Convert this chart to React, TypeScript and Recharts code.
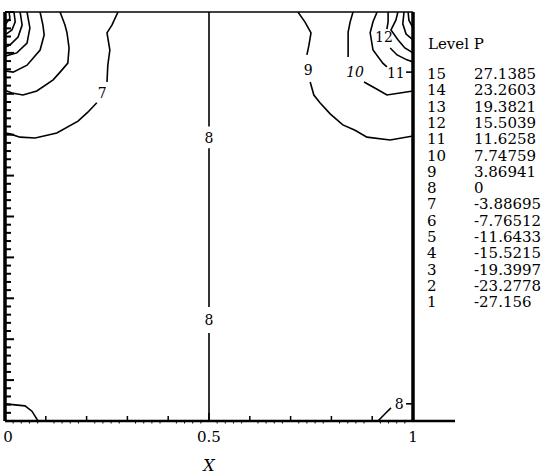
import React from "react";
import { ComposedChart, Line, XAxis, YAxis, ReferenceLine, Scatter } from "recharts";

// contour levels shown in the table on the right
const levelIds = ["15", "14", "13", "12", "11", "10", "9", "8", "7", "6", "5", "4", "3", "2", "1"];
const levelValues = [
  "27.1385", "23.2603", "19.3821", "15.5039", "11.6258", "7.74759", "3.86941", "0",
  "-3.88695", "-7.76512", "-11.6433", "-15.5215", "-19.3997", "-23.2778", "-27.156",
];

const xTickLabels = ["0", "0.5", "1"];
const minorTicks = Array.from({ length: 51 }, (_, i) => i / 50);

// contour polylines, [x, y] pairs
const c1: [number, number][] = [[0.01, 1], [0.012, 0.985], [0, 0.968]];
const c2: [number, number][] = [[0.022, 1], [0.025, 0.976], [0.017, 0.956], [0, 0.944]];
const c3: [number, number][] = [[0.037, 1], [0.042, 0.968], [0.032, 0.939], [0.012, 0.919], [0, 0.914]];
const c4: [number, number][] = [[0.054, 1], [0.061, 0.961], [0.054, 0.924], [0.029, 0.9], [0, 0.892]];
const c5: [number, number][] = [[0.086, 1], [0.093, 0.968], [0.096, 0.944], [0.086, 0.907], [0.054, 0.87], [0.02, 0.853], [0, 0.856]];
const c6: [number, number][] = [
  [0.135, 1], [0.147, 0.968], [0.152, 0.949], [0.157, 0.912], [0.154, 0.875], [0.135, 0.853],
  [0.118, 0.834], [0.078, 0.807], [0.044, 0.797], [0.017, 0.802], [0, 0.809],
];
const c7a: [number, number][] = [[0.277, 1], [0.262, 0.968], [0.25, 0.949], [0.257, 0.907], [0.252, 0.87], [0.25, 0.829]];
const c7b: [number, number][] = [
  [0.225, 0.778], [0.203, 0.755], [0.179, 0.733], [0.127, 0.704], [0.074, 0.692], [0.037, 0.694], [0.012, 0.702], [0, 0.704],
];
const c7c: [number, number][] = [[0, 0.042], [0.049, 0.037], [0.066, 0.024], [0.081, 0]];
const c8a: [number, number][] = [[0.5, 1], [0.5, 0.72]];
const c8b: [number, number][] = [[0.5, 0.667], [0.5, 0.279]];
const c8c: [number, number][] = [[0.5, 0.215], [0.5, 0]];
const c8d: [number, number][] = [[0.914, 0], [0.931, 0.017], [0.946, 0.032]];
const c8e: [number, number][] = [[0.983, 0.042], [1, 0.042]];
const c9a: [number, number][] = [[0.718, 1], [0.735, 0.976], [0.75, 0.949], [0.745, 0.919], [0.74, 0.895]];
const c9b: [number, number][] = [
  [0.748, 0.829], [0.757, 0.797], [0.772, 0.778], [0.797, 0.751], [0.828, 0.724], [0.858, 0.711],
  [0.887, 0.694], [0.944, 0.687], [1, 0.697],
];
const c10a: [number, number][] = [[0.853, 1], [0.846, 0.976], [0.841, 0.951], [0.841, 0.919], [0.841, 0.89]];
const c10b: [number, number][] = [[0.88, 0.829], [0.914, 0.81], [0.936, 0.797], [0.968, 0.802], [1, 0.807]];
const c11a: [number, number][] = [[0.912, 1], [0.902, 0.976], [0.895, 0.949], [0.902, 0.907], [0.926, 0.875], [0.936, 0.866]];
const c11b: [number, number][] = [[0.983, 0.853], [1, 0.853]];
const c12a: [number, number][] = [[0.939, 1], [0.939, 0.976], [0.936, 0.958]];
const c12b: [number, number][] = [[0.944, 0.912], [0.961, 0.895], [0.985, 0.883], [1, 0.878]];
const c13: [number, number][] = [[0.963, 1], [0.958, 0.98], [0.946, 0.956], [0.963, 0.932], [0.98, 0.912], [1, 0.9]];
const c14: [number, number][] = [[0.978, 1], [0.975, 0.971], [0.983, 0.946], [1, 0.932]];
const c15: [number, number][] = [[0.988, 1], [0.99, 0.98], [1, 0.961]];

const contours = [c1, c2, c3, c4, c5, c6, c7a, c7b, c7c, c8a, c8b, c8c, c8d, c8e, c9a, c9b, c10a, c10b, c11a, c11b, c12a, c12b, c13, c14, c15];

// inline contour labels
const labelX = [0.238, 0.5, 0.5, 0.743, 0.858, 0.958, 0.929, 0.966];
const labelY = [0.802, 0.692, 0.246, 0.858, 0.853, 0.851, 0.939, 0.042];
const labelText = ["7", "8", "8", "9", "10", "11", "12", "8"];

const FONT = "'DejaVu Serif', serif";

const labelData = labelText.map((t, i) => ({ x: labelX[i], y: labelY[i], text: t }));

function isMajor(v: number) {
  return Math.abs(v * 10 - Math.round(v * 10)) < 1e-6;
}

function YTick({ x, y, payload }: any) {
  const len = isMajor(payload.value) ? 9 : 6;
  return <line x1={x} x2={x + len} y1={y} y2={y} stroke="#000" strokeWidth={2} />;
}

function XTick({ x, y, payload }: any) {
  const v = payload.value;
  const len = Math.abs(v - 0.5) < 1e-6 ? 8 : isMajor(v) ? 5 : 0;
  const lbl = Math.abs(v) < 1e-6 ? xTickLabels[0] : Math.abs(v - 0.5) < 1e-6 ? xTickLabels[1] : Math.abs(v - 1) < 1e-6 ? xTickLabels[2] : null;
  return (
    <g>
      {len > 0 && <line x1={x} x2={x} y1={y} y2={y - len} stroke="#000" strokeWidth={1.5} />}
      {len === 0 && <line x1={x} x2={x} y1={y + 1} y2={y + 2.5} stroke="#000" strokeWidth={1} />}
      {lbl && (
        <text x={lbl === "0" ? x + 3 : x} y={y + 21} textAnchor="middle" fontFamily={FONT} fontSize={15} fill="#000">
          {lbl}
        </text>
      )}
    </g>
  );
}

function ContourLabel(props: any) {
  const { cx, cy, payload } = props;
  return (
    <text
      x={cx}
      y={cy + 5}
      textAnchor="middle"
      fontFamily={FONT}
      fontSize={14}
      fontStyle={payload.text === "10" ? "italic" : "normal"}
      fill="#000"
    >
      {payload.text}
    </text>
  );
}

export default function App() {
  return (
    <div style={{ position: "relative", width: 559, height: 476, background: "#fff" }}>
      <style>{"body{margin:0;background:#fff}"}</style>
      <ComposedChart width={559} height={476} margin={{ top: 12, right: 146, bottom: 0, left: 0 }}>
        <XAxis
          dataKey="x"
          type="number"
          domain={[0, 1]}
          allowDataOverflow
          ticks={minorTicks}
          interval={0}
          tick={<XTick />}
          tickLine={false}
          tickSize={0}
          tickMargin={0}
          height={55}
          axisLine={{ stroke: "#000", strokeWidth: 2.5 }}
          label={{ value: "X", position: "insideBottom", offset: 5, fontFamily: FONT, fontStyle: "italic", fontSize: 16, fill: "#000" }}
        />
        <YAxis
          dataKey="y"
          type="number"
          domain={[0, 1]}
          allowDataOverflow
          ticks={minorTicks}
          interval={0}
          tick={<YTick />}
          tickLine={false}
          tickSize={0}
          tickMargin={0}
          width={5}
          axisLine={{ stroke: "#000", strokeWidth: 3.5 }}
        />
        <ReferenceLine y={1} stroke="#000" strokeWidth={1.5} />
        <ReferenceLine x={1} stroke="#000" strokeWidth={3.5} />
        <ReferenceLine
          segment={[{ x: 1, y: 0 }, { x: 1.103, y: 0 }]}
          stroke="#000"
          strokeWidth={2.5}
          ifOverflow="visible"
        />
        {contours.map((c, i) => (
          <Line
            key={i}
            data={c.map(([x, y]) => ({ x, y }))}
            dataKey="y"
            type="linear"
            stroke="#000"
            strokeWidth={1.6}
            dot={false}
            activeDot={false}
            isAnimationActive={false}
            legendType="none"
          />
        ))}
        <Scatter data={labelData} dataKey="y" shape={<ContourLabel />} isAnimationActive={false} legendType="none" />
      </ComposedChart>
      <div style={{ position: "absolute", left: 428, top: 35, fontFamily: FONT, fontSize: 15, color: "#000", whiteSpace: "nowrap" }}>
        Level P
      </div>
      {levelIds.map((id, i) => (
        <div
          key={id}
          style={{
            position: "absolute",
            top: 65 + i * 16.3,
            left: 427,
            fontFamily: FONT,
            fontSize: 15,
            lineHeight: "19px",
            color: "#000",
            whiteSpace: "nowrap",
          }}
        >
          <span style={{ display: "inline-block", width: 47 }}>{id}</span>
          <span>{levelValues[i]}</span>
        </div>
      ))}
    </div>
  );
}
